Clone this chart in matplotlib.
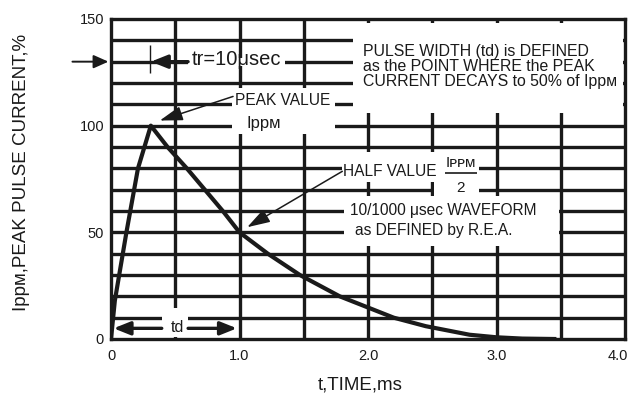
import numpy as np
import matplotlib.pyplot as plt
import matplotlib.transforms as mtransforms
from matplotlib.patches import Rectangle

plt.rcParams['font.family'] = ['Liberation Sans', 'DejaVu Sans']

# Forma de onda 10/1000 us
time_ms = [0, 0.03, 0.12, 0.21, 0.26, 0.31, 0.44, 0.59, 0.73, 0.87, 1.0,
           1.22, 1.47, 1.78, 2.2, 2.45, 2.79, 3.0, 3.2, 3.45]
current_pct = [0, 18, 50, 80, 90, 100, 90, 80, 70, 60, 50,
               40, 30, 20, 10, 6, 2, 0.8, 0.2, 0]

x_ticks = [0, 1, 2, 3, 4]
x_tick_labels = ['0', '1.0', '2.0', '3.0', '4.0']
y_ticks = [0, 50, 100, 150]
y_tick_labels = ['0', '50', '100', '150']
grid_x = np.arange(0.5, 4.0, 0.5)
grid_y = np.arange(10, 150, 10)

ink = '#1a1a1a'

fig = plt.figure(figsize=(6.33, 3.94), dpi=100)
ax = fig.add_axes([111/633, 1 - 339/394, 514/633, 320/394])
ax.set_xlim(0, 4)
ax.set_ylim(0, 150)

# rejilla gruesa
ax.vlines(grid_x, 0, 150, color=ink, lw=2.4, zorder=1)
ax.hlines(grid_y, 0, 4, color=ink, lw=2.4, zorder=1)

# cajas blancas detras de los textos (x0, y0, ancho, alto)
masks = [
    (0.60, 128.2, 0.755, 3.6),    # tr=10usec
    (0.945, 96.0, 0.795, 21.5),   # PEAK VALUE
    (1.88, 106.0, 2.105, 42.3),   # PULSE WIDTH ...
    (1.80, 73.6, 1.06, 14.1),     # HALF VALUE
    (2.51, 66.0, 0.35, 7.6),      # 2
    (1.81, 43.5, 1.675, 23.5),    # 10/1000 usec WAVEFORM
    (0.395, 0.8, 0.205, 13.8),    # td
]
for x0, y0, w, h in masks:
    ax.add_patch(Rectangle((x0, y0), w, h, facecolor='white',
                           edgecolor='none', zorder=2))

ax.plot(time_ms, current_pct, color=ink, lw=3, zorder=3,
        solid_joinstyle='round')

for s in ax.spines.values():
    s.set_linewidth(2.4)
    s.set_color(ink)

ax.set_xticks(x_ticks, x_tick_labels)
ax.set_yticks(y_ticks, y_tick_labels)
ax.tick_params(axis='x', length=0, pad=7, labelsize=10.5, colors=ink)
ax.tick_params(axis='y', length=0, pad=5, labelsize=10.5, colors=ink)
# la etiqueta 4.0 queda un poco a la izquierda, como en el original
last = ax.get_xticklabels()[-1]
last.set_transform(last.get_transform() +
                   mtransforms.ScaledTranslation(-5/72, 0, fig.dpi_scale_trans))

ax.set_xlabel('t,TIME,ms', fontsize=13.5, color=ink)
ax.xaxis.set_label_coords(0.484, -0.116)
ax.set_ylabel('Ippᴍ,PEAK PULSE CURRENT,%', fontsize=13.5, color=ink)
ax.yaxis.set_label_coords(-0.158, 0.519)

thick = dict(arrowstyle='-|>,head_length=0.45,head_width=0.2', lw=1.4,
             color=ink, mutation_scale=20, shrinkA=0, shrinkB=0)
thin = dict(arrowstyle='-|>,head_length=0.7,head_width=0.22', lw=1.1,
            color=ink, mutation_scale=20, shrinkA=0, shrinkB=0)
bold = dict(arrowstyle='-|>,head_length=0.5,head_width=0.2', lw=2.4,
            color=ink, mutation_scale=20, shrinkA=0, shrinkB=0)

# tiempo de subida
ax.annotate('', xy=(-0.02, 130), xytext=(-0.30, 130), xycoords='data',
            arrowprops=thick, annotation_clip=False)
ax.vlines(0.30, 124.5, 138, color=ink, lw=1.0, zorder=3)
ax.annotate('', xy=(0.31, 130), xytext=(0.60, 130), arrowprops=bold, zorder=3)
ax.text(0.63, 130.8, 'tr=10μsec', fontsize=14.5, va='center', ha='left',
        color=ink, zorder=4)

# valor de pico
ax.annotate('', xy=(0.38, 102.4), xytext=(0.95, 113.7), arrowprops=thin, zorder=3)
ax.text(0.965, 111.8, 'PEAK VALUE', fontsize=11.2, va='center', ha='left',
        color=ink, zorder=4)
ax.text(1.187, 101.0, 'Ippᴍ', fontsize=12, va='center', ha='center',
        color=ink, zorder=4)

ax.text(1.96, 127.8, 'PULSE WIDTH (td) is DEFINED\nas the POINT WHERE the PEAK\n'
        'CURRENT DECAYS to 50% of Ippᴍ', fontsize=11.4, va='center', ha='left',
        linespacing=1.0, color=ink, zorder=4)

# medio valor
ax.annotate('', xy=(1.06, 52.4), xytext=(1.80, 78.6), arrowprops=thin, zorder=3)
ax.text(1.805, 78.6, 'HALF VALUE', fontsize=11.2, va='center', ha='left',
        color=ink, zorder=4)
ax.text(2.725, 82.6, 'Iᴘᴘᴍ', fontsize=11, va='center', ha='center',
        color=ink, zorder=4)
ax.hlines(78.0, 2.60, 2.85, color=ink, lw=1.2, zorder=4)
ax.text(2.72, 70.6, '2', fontsize=11, va='center', ha='center',
        color=ink, zorder=4)

ax.text(1.86, 60.0, '10/1000 μsec WAVEFORM', fontsize=11.2, va='center',
        ha='left', color=ink, zorder=4)
ax.text(1.90, 51.0, 'as DEFINED by R.E.A.', fontsize=11.2, va='center',
        ha='left', color=ink, zorder=4)

# ancho de pulso td
ax.annotate('', xy=(0.02, 5), xytext=(0.395, 5), arrowprops=bold, zorder=3)
ax.annotate('', xy=(0.98, 5), xytext=(0.60, 5), arrowprops=bold, zorder=3)
ax.text(0.517, 5.4, 'td', fontsize=11.5, va='center', ha='center',
        color=ink, zorder=4)

plt.savefig('out.png', dpi=100)
